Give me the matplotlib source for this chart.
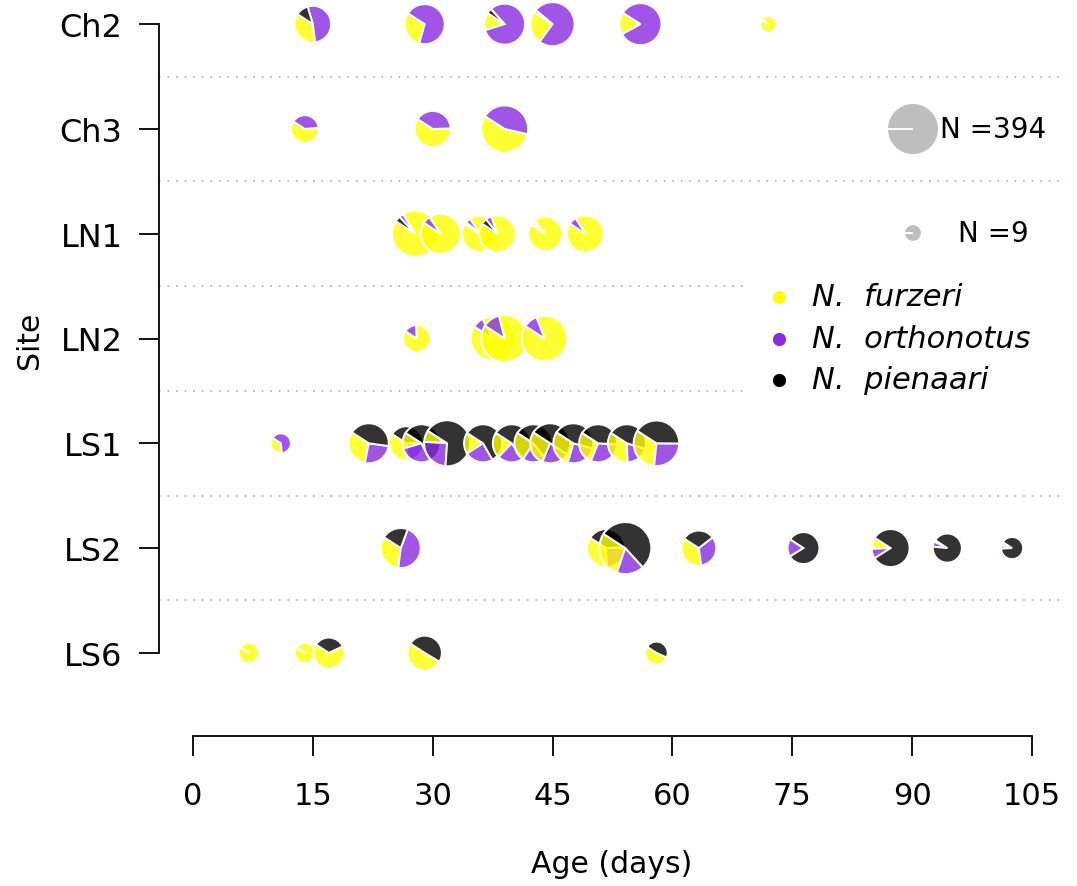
import numpy as np
import matplotlib
matplotlib.use("Agg")
import matplotlib.pyplot as plt
from matplotlib.patches import Wedge, Rectangle
from matplotlib.transforms import ScaledTranslation

plt.rcParams["font.family"] = ["DejaVu Sans"]

DPI = 100

# ── Data ────────────────────────────────────────────────────────────────────
sites = ["Ch2", "Ch3", "LN1", "LN2", "LS1", "LS2", "LS6"]
species = ["N.  furzeri", "N.  orthonotus", "N.  pienaari"]

# one entry per sample (pie): site, age in days, counts per species
sample_site = ["Ch2"] * 6 + ["Ch3"] * 3 + ["LN1"] * 6 + ["LN2"] * 4 + ["LS1"] * 13 + ["LS2"] * 8 + ["LS6"] * 5
sample_age = [15, 29, 39, 45, 56, 72,
              14, 30, 39,
              27.8, 31, 35.9, 38.1, 44.1, 49.1,
              28, 37.5, 39, 44,
              11, 22, 26.7, 28.6, 31.8, 36.3, 39.9, 42.6, 44.7, 47.6, 50.7, 54.3, 58,
              26, 51.7, 54.1, 63.3, 76.4, 87.3, 94.4, 102.5,
              7, 14, 17, 29, 58]
n_furzeri = [42, 47, 24, 53, 32, 7,
             26, 65, 154,
             239, 148, 102, 104, 86, 108,
             34, 202, 244, 224,
             5, 49, 32, 18, 21, 24, 29, 33, 44, 47, 37, 46, 81,
             51, 46, 114, 36, 0, 13, 1, 1,
             14, 14, 41, 47, 11]
n_orthonotus = [61, 111, 141, 163, 155, 0,
                17, 44, 123,
                8, 10, 5, 6, 2, 8,
                6, 18, 33, 25,
                9, 41, 22, 37, 64, 32, 29, 26, 35, 40, 40, 26, 66,
                73, 33, 67, 33, 13, 11, 3, 1,
                0, 0, 0, 0, 0]
n_pienaari = [13, 0, 7, 4, 0, 0,
              0, 0, 0,
              10, 0, 2, 6, 2, 0,
              0, 0, 0, 0,
              0, 68, 36, 77, 172, 76, 74, 73, 79, 71, 55, 60, 102,
              34, 53, 213, 30, 59, 108, 48, 18,
              0, 0, 21, 46, 10]

legend_n = [394, 9]

x_ticks = [0, 15, 30, 45, 60, 75, 90, 105]

# ── Styling ─────────────────────────────────────────────────────────────────
SPECIES_SOLID = ["#FFFF00", "#8A2BE2", "#000000"]
PIE_ALPHA = 0.8
START_ANGLE = 147
R_MAX_PX = 26.0


def radius_px(n):
    return R_MAX_PX * (n / max(legend_n)) ** 0.287


def draw_pie(ax, fig, x, y, counts, r_px, colors, start=START_ANGLE, zorder=5):
    trans = fig.dpi_scale_trans + ScaledTranslation(x, y, ax.transData)
    total = float(sum(counts))
    theta = start
    for c, col in zip(counts, colors):
        if c <= 0:
            continue
        # keep a hair under 360 so a single-slice pie still shows its radial edge
        span = min(360.0 * c / total, 359.95)
        w = Wedge((0, 0), r_px / DPI, theta, theta + span, facecolor=col,
                  edgecolor="white", linewidth=1.4, transform=trans,
                  clip_on=False, zorder=zorder)
        ax.add_patch(w)
        theta += span


def main():
    fig = plt.figure(figsize=(1077 / DPI, 887 / DPI), dpi=DPI)
    ax = fig.add_axes([159.4 / 1077, 1 - 679 / 887, (1065.6 - 159.4) / 1077, 679 / 887])

    ypos = {s: i + 1 for i, s in enumerate(sites)}
    ax.set_xlim(-4.2, 109.2)
    ax.set_ylim(7.24, 0.76)

    # dotted separators between sites
    for k in range(1, len(sites)):
        ax.axhline(k + 0.5, color="#AAAAAA", lw=1.1, linestyle=(0, (1.1, 4.5)), zorder=1)

    pie_cols = [matplotlib.colors.to_rgba(c, PIE_ALPHA) for c in SPECIES_SOLID]
    order = sorted(range(len(sample_age)), key=lambda i: (ypos[sample_site[i]], sample_age[i]))
    for z, i in enumerate(order):
        counts = [n_furzeri[i], n_orthonotus[i], n_pienaari[i]]
        draw_pie(ax, fig, sample_age[i], ypos[sample_site[i]], counts,
                 radius_px(sum(counts)), pie_cols, zorder=5 + z * 0.01)

    # axes (detached R style)
    for side in ["top", "right"]:
        ax.spines[side].set_visible(False)
    ax.spines["bottom"].set_position(("outward", 41.8))
    ax.spines["bottom"].set_bounds(0, 105)
    ax.spines["left"].set_bounds(1, 7)
    for side in ["bottom", "left"]:
        ax.spines[side].set_linewidth(1.3)

    ax.set_xticks(x_ticks)
    ax.set_xticklabels([str(t) for t in x_ticks])
    ax.set_yticks(range(1, len(sites) + 1))
    ax.set_yticklabels(sites)
    ax.tick_params(axis="x", length=14.5, width=1.3, labelsize=22, pad=18)
    ax.tick_params(axis="y", length=14.5, width=1.3, labelsize=23, pad=12)

    fig.text(30 / 1077, 1 - 340 / 887, "Site", rotation=90, ha="center", va="center", fontsize=21.5)
    fig.text(612 / 1077, 1 - 865 / 887, "Age (days)", ha="center", va="center", fontsize=21.5)

    # overlay axes in pixel coordinates for the legends
    lax = fig.add_axes([0, 0, 1, 1], facecolor="none", zorder=3)
    lax.set_xlim(0, 1077)
    lax.set_ylim(887, 0)
    lax.axis("off")

    # legend background (breaks the dotted lines)
    lax.add_patch(Rectangle((748, 268), 318, 137, facecolor="white", edgecolor="none", zorder=0))

    # size legend
    for n, yy, tx in zip(legend_n, [130, 234], [940, 958]):
        trans = fig.dpi_scale_trans + ScaledTranslation(913, yy, lax.transData)
        lax.add_patch(Wedge((0, 0), radius_px(n) / DPI, 180, 539.95, facecolor="#BEBEBE",
                            edgecolor="white", linewidth=1.4, transform=trans, zorder=2))
        lax.text(tx, yy, f"N ={n}", ha="left", va="center", fontsize=20, zorder=2)

    # species legend
    for name, col, yy in zip(species, SPECIES_SOLID, [298, 340, 381]):
        lax.plot([779], [yy], "o", color=col, markersize=9.5, markeredgewidth=0, zorder=2)
        lax.text(812, yy, name, ha="left", va="center", fontsize=22, style="italic", zorder=2)

    fig.savefig("out.png", dpi=DPI)
    plt.close(fig)


if __name__ == "__main__":
    main()
